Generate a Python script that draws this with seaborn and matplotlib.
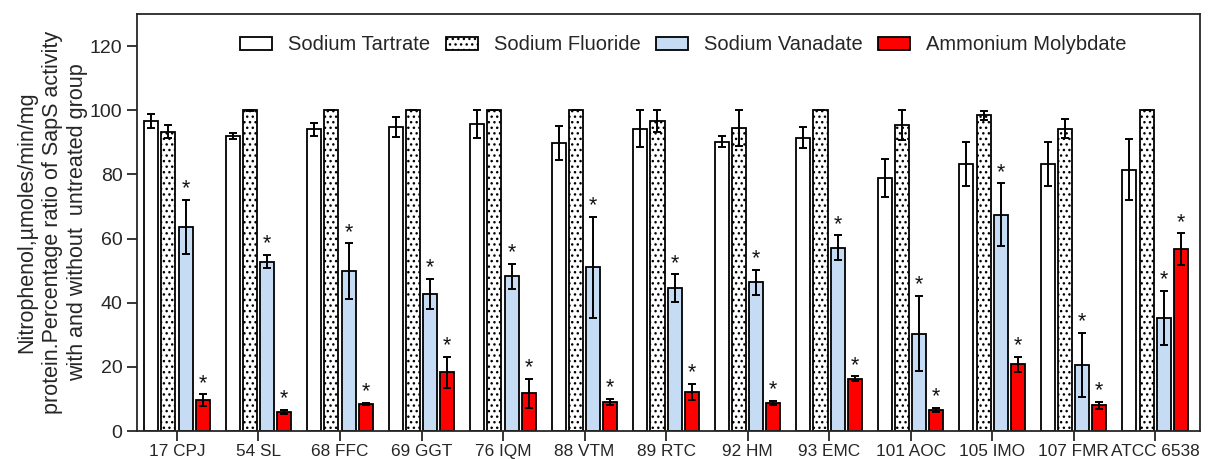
import pandas as pd
import matplotlib
matplotlib.use('Agg')
import matplotlib.pyplot as plt
import seaborn as sns
import numpy as np

'''
Strains and the four treatments (values read off the figure)
'''
strains = ['17 CPJ', '54 SL', '68 FFC', '69 GGT', '76 IQM', '88 VTM', '89 RTC',
           '92 HM', '93 EMC', '101 AOC', '105 IMO', '107 FMR', 'ATCC 6538']
treatments = ['Sodium Tartrate', 'Sodium Fluoride', 'Sodium Vanadate', 'Ammonium Molybdate']

tartrate = [96.6, 91.9, 94.0, 94.8, 95.7, 89.8, 94.3, 90.2, 91.4, 78.8, 83.2, 83.2, 81.4]
tartrate_err = [2.2, 1.0, 1.9, 3.0, 4.5, 5.2, 5.9, 1.7, 3.3, 6.0, 6.8, 6.8, 9.5]

fluoride = [93.3, 100.0, 100.0, 100.0, 100.0, 100.0, 96.7, 94.4, 100.0, 95.5, 98.4, 94.2, 100.0]
fluoride_err = [2.0, 0.2, 0.0, 0.0, 0.0, 0.0, 3.4, 5.6, 0.0, 4.7, 1.5, 3.0, 0.0]

vanadate = [63.7, 52.8, 49.8, 42.7, 48.2, 51.0, 44.5, 46.4, 57.2, 30.3, 67.4, 20.7, 35.3]
vanadate_err = [8.4, 2.1, 8.7, 4.6, 4.0, 15.8, 4.3, 3.9, 3.8, 11.7, 9.8, 10.0, 8.5]

molybdate = [9.6, 5.9, 8.4, 18.3, 11.8, 9.1, 12.3, 8.7, 16.3, 6.6, 20.8, 8.0, 56.6]
molybdate_err = [1.8, 0.6, 0.3, 4.9, 4.5, 1.0, 2.5, 0.6, 0.7, 0.6, 2.3, 1.0, 5.0]

# which treatments get a significance star
starred = ['Sodium Vanadate', 'Ammonium Molybdate']

values = [tartrate, fluoride, vanadate, molybdate]
errors = [tartrate_err, fluoride_err, vanadate_err, molybdate_err]

df = pd.DataFrame({
    'strain': np.tile(strains, len(treatments)),
    'treatment': np.repeat(treatments, len(strains)),
    'ratio': np.concatenate(values),
})

sns.set_style('ticks')
plt.rcParams['font.family'] = ['Liberation Sans', 'DejaVu Sans']
plt.rcParams['hatch.linewidth'] = 1.0

colors = {'Sodium Tartrate': 'white', 'Sodium Fluoride': 'white',
          'Sodium Vanadate': '#c6dcf5', 'Ammonium Molybdate': '#ff0000'}

fig = plt.figure(figsize=(12.16, 4.59), dpi=100)
ax = fig.add_axes([0.1127, 0.061, 0.8741, 0.9085])

sns.barplot(data=df, x='strain', y='ratio', hue='treatment', order=strains,
            hue_order=treatments, palette=colors, saturation=1, errorbar=None,
            width=0.84, gap=0.18, edgecolor='black', linewidth=1.3, ax=ax)

bar_groups = list(ax.containers)
for bar in bar_groups[1]:
    bar.set_hatch('...')

for i, cont in enumerate(bar_groups):
    xs = [b.get_x() + b.get_width() / 2 for b in cont]
    ax.errorbar(xs, values[i], yerr=errors[i], fmt='none', ecolor='black',
                elinewidth=1.4, capsize=3, capthick=1.4, zorder=5)
    if treatments[i] in starred:
        for x, v, e in zip(xs, values[i], errors[i]):
            ax.text(x, v + e + 0.2, '*', ha='center', va='bottom', fontsize=15.5, color='#111111')

ax.set_ylim(0, 130)
ax.set_xlim(-0.49, 12.55)
ax.set_yticks([0, 20, 40, 60, 80, 100, 120])
ax.tick_params(axis='y', labelsize=14, length=7, width=1.3, direction='out')
ax.tick_params(axis='x', labelsize=12.4, length=7, width=1.3, direction='out', pad=2)
for s in ax.spines.values():
    s.set_linewidth(1.3)
    s.set_visible(True)

ax.set_xlabel('')
ax.set_ylabel('Nitrophenol,\u00b5moles/min/mg\nprotein.Percentage ratio of SapS activity\nwith and without  untreated group',
              fontsize=15.5, linespacing=1.28, labelpad=1)

leg = ax.legend(loc='center', bbox_to_anchor=(0.514, 0.926), ncol=4, frameon=False,
                fontsize=14.5, handlelength=1.6, handleheight=0.65, handletextpad=0.8,
                columnspacing=0.75)
leg.legend_handles[1].set_hatch('...')

fig.savefig('out.png', dpi=100)
